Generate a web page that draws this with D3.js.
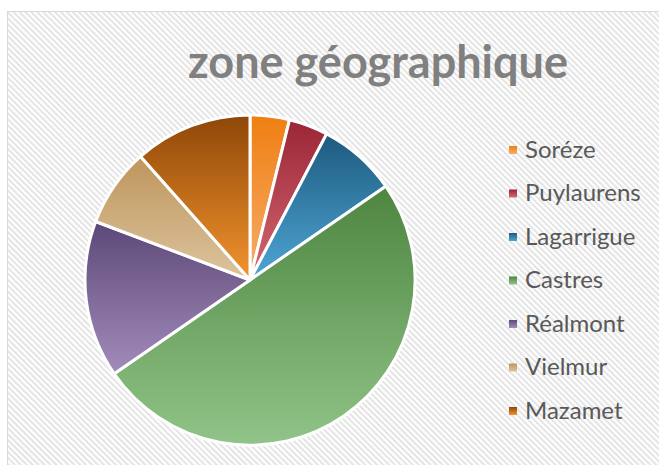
<!DOCTYPE html>
<html>
<head>
<meta charset="utf-8">
<script src="https://cdn.jsdelivr.net/npm/d3@7"></script>
<style>
    body { margin: 0; background: #fff; }
    svg { display: block; }
    .title { font-family: Lato, sans-serif; font-weight: bold; fill: #808080; }
    .legend-label { font-family: Lato, sans-serif; fill: #595959; }
</style>
</head>
<body>
<div id="chart"></div>
<script>
// Data
const zones = ["Soréze", "Puylaurens", "Lagarrigue", "Castres", "Réalmont", "Vielmur", "Mazamet"];
const counts = [1, 1, 2, 13, 4, 2, 3];

// Gradient colours per slice (top -> bottom)
const topColours = ["#ef7f12", "#9b2535", "#1d5a7e", "#4e8540", "#5c4878", "#be955c", "#8e4707"];
const bottomColours = ["#f7ad6c", "#d46973", "#4fa6d6", "#90c488", "#a28cbb", "#ddc49e", "#f3942e"];

const width = 659, height = 465;

const svg = d3.select("#chart").append("svg")
    .attr("width", width)
    .attr("height", height);

const defs = svg.append("defs");

// Hatched background
const hatch = defs.append("pattern")
    .attr("id", "hatch")
    .attr("patternUnits", "userSpaceOnUse")
    .attr("width", 4.2)
    .attr("height", 4.2)
    .attr("patternTransform", "rotate(-45)");
hatch.append("rect").attr("width", 4.2).attr("height", 4.2).attr("fill", "#ffffff");
hatch.append("rect").attr("width", 2).attr("height", 4.2).attr("fill", "#e4e4e4");

svg.append("rect")
    .attr("x", 7.5)
    .attr("y", 11.5)
    .attr("width", width)
    .attr("height", height)
    .attr("fill", "url(#hatch)")
    .attr("stroke", "#d9d9d9")
    .attr("stroke-width", 1);

// Gradients
zones.forEach((z, i) => {
    const g = defs.append("linearGradient")
        .attr("id", `grad-${i}`)
        .attr("x1", 0).attr("y1", 0)
        .attr("x2", 0).attr("y2", 1);
    g.append("stop").attr("offset", "0%").attr("stop-color", topColours[i]);
    g.append("stop").attr("offset", "100%").attr("stop-color", bottomColours[i]);
});

// Title
svg.append("text")
    .attr("class", "title")
    .attr("x", 378)
    .attr("y", 78)
    .attr("text-anchor", "middle")
    .style("font-size", "45px")
    .text("zone géographique");

// Pie
const cx = 250, cy = 280, radius = 165;

const pie = d3.pie().sort(null).value(d => d.value);
const arc = d3.arc().innerRadius(0).outerRadius(radius);

const data = zones.map((z, i) => ({ zone: z, value: counts[i], idx: i }));

svg.append("g")
    .attr("transform", `translate(${cx}, ${cy})`)
    .selectAll(".slice")
    .data(pie(data))
    .join("path")
    .attr("class", "slice")
    .attr("d", arc)
    .attr("fill", d => `url(#grad-${d.data.idx})`)
    .attr("stroke", "#ffffff")
    .attr("stroke-width", 3)
    .attr("stroke-linejoin", "round");

// Legend
const rowScale = d3.scalePoint()
    .domain(zones)
    .range([150, 411]);

const legend = svg.append("g").attr("class", "legend");

legend.selectAll(".square")
    .data(zones)
    .join("rect")
    .attr("class", "square")
    .attr("x", 509)
    .attr("y", d => rowScale(d) - 4)
    .attr("width", 8)
    .attr("height", 8)
    .attr("fill", (d, i) => `url(#grad-${i})`);

legend.selectAll(".legend-label")
    .data(zones)
    .join("text")
    .attr("class", "legend-label")
    .attr("x", 525)
    .attr("y", d => rowScale(d) + 7.5)
    .style("font-size", "24px")
    .text(d => d);
</script>
</body>
</html>
